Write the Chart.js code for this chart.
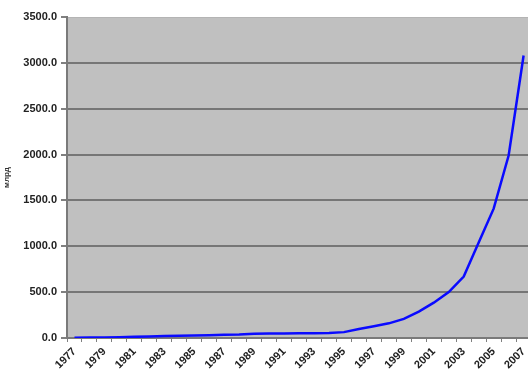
<!DOCTYPE html>
<html>
<head>
<meta charset="utf-8">
<script src="https://cdn.jsdelivr.net/npm/chart.js@4/dist/chart.umd.min.js"></script>
<style>
  html, body { margin: 0; padding: 0; background: #ffffff; overflow: hidden; }
  #wrap { width: 536px; height: 372px; }
</style>
</head>
<body>
<div id="wrap"><canvas id="c" width="536" height="372"></canvas></div>
<script>
// Years on the category axis
const years = [
  '1977','1978','1979','1980','1981','1982','1983','1984','1985','1986',
  '1987','1988','1989','1990','1991','1992','1993','1994','1995','1996',
  '1997','1998','1999','2000','2001','2002','2003','2004','2005','2006','2007'
];

// Annual values
const values = [
  4, 5, 6, 8, 13, 16, 22, 24, 26, 30,
  35, 38, 45, 48, 50, 52, 53, 55, 64, 98,
  128, 160, 208, 288, 385, 500, 670, 1040, 1410, 1990, 3080
];

// Value axis ticks
const yTicks = [0, 500, 1000, 1500, 2000, 2500, 3000, 3500];
const yTitle = 'млрд';

const plotBackground = {
  id: 'plotBackground',
  beforeDraw(chart) {
    const { ctx, chartArea: a } = chart;
    ctx.save();
    ctx.fillStyle = '#c0c0c0';
    ctx.fillRect(a.left, a.top, a.right - a.left, a.bottom - a.top);
    ctx.strokeStyle = '#b4b4b4';
    ctx.lineWidth = 1;
    ctx.beginPath();
    ctx.moveTo(a.left, a.top + 0.5);
    ctx.lineTo(a.right, a.top + 0.5);
    ctx.stroke();
    ctx.restore();
  }
};

new Chart(document.getElementById('c'), {
  type: 'line',
  data: {
    labels: years,
    datasets: [{
      data: values,
      borderColor: '#0a0aff',
      borderWidth: 2.5,
      pointRadius: 0,
      tension: 0,
      fill: false
    }]
  },
  options: {
    responsive: false,
    animation: false,
    layout: { padding: { left: 0, right: 4, top: 17, bottom: 0 } },
    plugins: {
      legend: { display: false },
      tooltip: { enabled: false }
    },
    scales: {
      x: {
        type: 'category',
        offset: true,
        afterFit(scale) { scale.height = 34; },
        grid: {
          offset: true,
          drawOnChartArea: false,
          drawTicks: true,
          tickLength: 4,
          tickColor: '#808080',
          lineWidth: 1
        },
        border: { display: true, color: '#7a7a7a', width: 2 },
        ticks: {
          autoSkip: false,
          minRotation: 45,
          maxRotation: 45,
          padding: 3,
          color: '#222222',
          font: { family: 'Liberation Sans, Arial', size: 11, weight: 'bold' },
          callback(v, i) { return i % 2 === 0 ? years[i] : ''; }
        }
      },
      y: {
        min: yTicks[0],
        max: yTicks[yTicks.length - 1],
        afterFit(scale) { scale.width = 67; },
        afterBuildTicks(scale) { scale.ticks = yTicks.map(v => ({ value: v })); },
        grid: {
          color: ctx => (ctx.tick && ctx.tick.value === 3500) ? 'rgba(0,0,0,0)' : '#767676',
          tickColor: '#808080',
          lineWidth: 2,
          tickLength: 6
        },
        border: { display: true, color: '#7a7a7a', width: 2 },
        ticks: {
          padding: 4,
          color: '#222222',
          font: { family: 'Liberation Sans, Arial', size: 11, weight: 'bold' },
          callback: v => Number(v).toFixed(1)
        },
        title: {
          display: true,
          text: yTitle,
          color: '#333333',
          padding: { top: 2, bottom: 0 },
          font: { family: 'Liberation Sans, Arial', size: 8, weight: 'bold' }
        }
      }
    }
  },
  plugins: [plotBackground]
});
</script>
</body>
</html>
